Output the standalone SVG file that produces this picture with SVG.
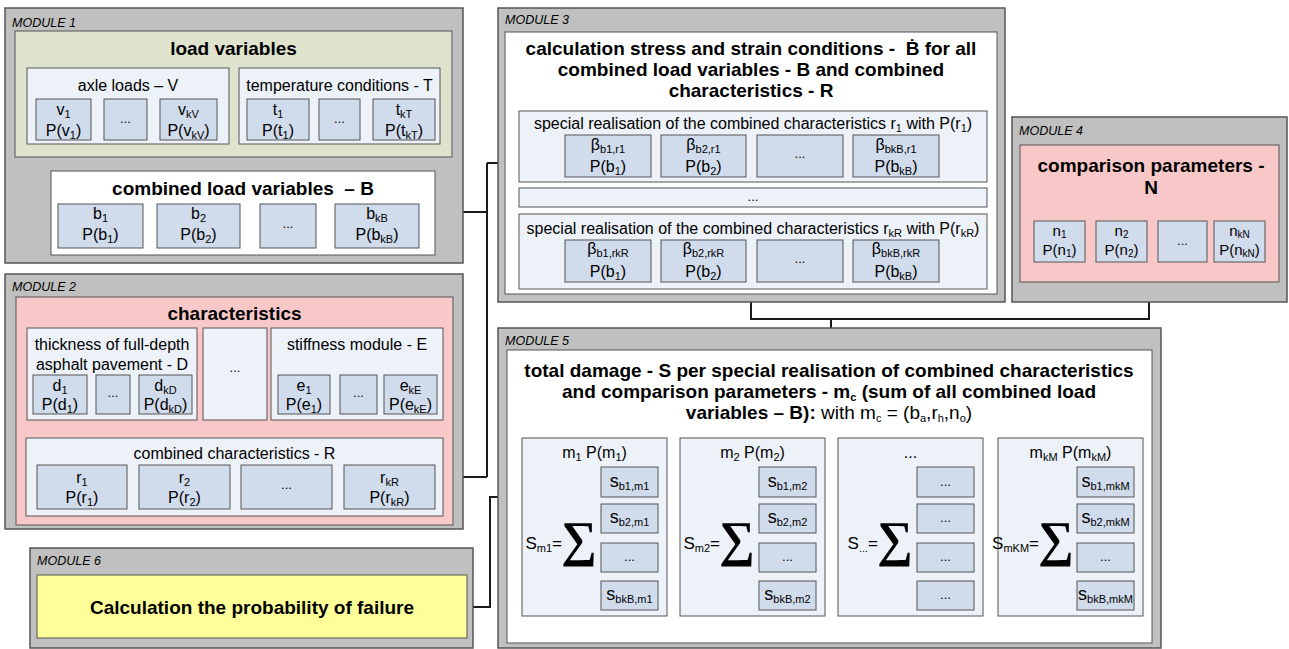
<svg xmlns="http://www.w3.org/2000/svg" width="1289" height="649" viewBox="0 0 1289 649">
<style>
text{font-family:"Liberation Sans",Arial,sans-serif;fill:#000}
.mod{fill:#c0c0c0;stroke:#555;stroke-width:1.5}
.lbl{font-size:12.5px;font-style:italic}
.ttl{font-size:19px;font-weight:bold;text-anchor:middle}
.t{font-size:16px;text-anchor:middle}
.n{font-size:15px;text-anchor:middle}
.s{font-size:18px;text-anchor:middle}
.cont{fill:#edf1f8;stroke:#555;stroke-width:1}
.box{fill:#d0dbec;stroke:#555;stroke-width:1}
.white{fill:#fff;stroke:#555}
.pink{fill:#f8c8c8;stroke:#555}
.green{fill:#dfe3cd;stroke:#555}
.yellow{fill:#ffff99;stroke:#555}
.conn{fill:none;stroke:#1a1a1a;stroke-width:2}
.sb{font-size:11px}
.nsb{font-size:10px}
.d{font-size:13px;text-anchor:middle}
.sig{font-family:"Liberation Serif","DejaVu Serif",serif;font-size:50px;font-weight:bold;text-anchor:middle}
.eq{font-size:17px;text-anchor:end}
</style>

<g id="connectors">
<path class="conn" d="M127,144 V161 H341 V144 M243,161 V171"/>
<path class="conn" d="M112,420 V428 H358 V420 M235,420 V438"/>
<path class="conn" d="M435,212 H487 M443,477 H487 M487,163 V477 M487,163 H505"/>
<path class="conn" d="M751,294 V319 H1149 V282 M831,319 V350"/>
<path class="conn" d="M467,607 H490 V497 H507"/>
</g>

<g id="module1">
<rect class="mod" x="5" y="8" width="458" height="255"/>
<text class="lbl" x="12" y="27">MODULE 1</text>
<g id="load-variables">
<rect class="green" x="15" y="31" width="437" height="126"/>
<text class="ttl" x="233.5" y="55">load variables</text>
<g id="axle-loads">
<rect class="cont" x="27" y="68" width="202" height="76"/>
<text class="t" x="128" y="91">axle loads – V</text>
<rect class="box" x="36" y="99" width="55" height="41"/>
<text class="t" x="63.5" y="115">v<tspan class="sb" dy="3">1</tspan></text>
<text class="t" x="63.5" y="136">P(v<tspan class="sb" dy="3">1</tspan><tspan dy="-3">)</tspan></text>
<rect class="box" x="104" y="99" width="43" height="41"/>
<text class="d" x="125.5" y="123">...</text>
<rect class="box" x="160" y="99" width="57" height="41"/>
<text class="t" x="188.5" y="115">v<tspan class="sb" dy="3">kV</tspan></text>
<text class="t" x="188.5" y="136">P(v<tspan class="sb" dy="3">kV</tspan><tspan dy="-3">)</tspan></text>
</g>
<g id="temperature">
<rect class="cont" x="239" y="68" width="201" height="76"/>
<text class="t" x="339.5" y="91">temperature conditions - T</text>
<rect class="box" x="247" y="99" width="62" height="41"/>
<text class="t" x="278" y="115">t<tspan class="sb" dy="3">1</tspan></text>
<text class="t" x="278" y="136">P(t<tspan class="sb" dy="3">1</tspan><tspan dy="-3">)</tspan></text>
<rect class="box" x="319" y="99" width="41" height="41"/>
<text class="d" x="339.5" y="123">...</text>
<rect class="box" x="373" y="99" width="62" height="41"/>
<text class="t" x="404" y="115">t<tspan class="sb" dy="3">kT</tspan></text>
<text class="t" x="404" y="136">P(t<tspan class="sb" dy="3">kT</tspan><tspan dy="-3">)</tspan></text>
</g>
</g>
<g id="combined-load">
<rect class="white" x="51" y="171" width="384" height="84"/>
<text class="ttl" x="243" y="195">combined load variables&#160; – B</text>
<rect class="box" x="58" y="204" width="85" height="44"/>
<text class="t" x="100.5" y="219">b<tspan class="sb" dy="3">1</tspan></text>
<text class="t" x="100.5" y="240">P(b<tspan class="sb" dy="3">1</tspan><tspan dy="-3">)</tspan></text>
<rect class="box" x="157" y="204" width="83" height="44"/>
<text class="t" x="198.5" y="219">b<tspan class="sb" dy="3">2</tspan></text>
<text class="t" x="198.5" y="240">P(b<tspan class="sb" dy="3">2</tspan><tspan dy="-3">)</tspan></text>
<rect class="box" x="260" y="204" width="56" height="44"/>
<text class="d" x="288" y="228">...</text>
<rect class="box" x="335" y="204" width="84" height="44"/>
<text class="t" x="377" y="219">b<tspan class="sb" dy="3">kB</tspan></text>
<text class="t" x="377" y="240">P(b<tspan class="sb" dy="3">kB</tspan><tspan dy="-3">)</tspan></text>
</g>
</g>

<g id="module2">
<rect class="mod" x="5" y="274" width="458" height="255"/>
<text class="lbl" x="12" y="291">MODULE 2</text>
<rect class="pink" x="16" y="297" width="437" height="228"/>
<text class="ttl" x="234.5" y="320">characteristics</text>
<g id="thickness">
<rect class="cont" x="27" y="328" width="170" height="92"/>
<text class="t" x="112" y="350">thickness of full-depth</text>
<text class="t" x="112" y="370">asphalt pavement - D</text>
<rect class="box" x="33" y="375" width="54" height="39"/>
<text class="t" x="60" y="391">d<tspan class="sb" dy="3">1</tspan></text>
<text class="t" x="60" y="410">P(d<tspan class="sb" dy="3">1</tspan><tspan dy="-3">)</tspan></text>
<rect class="box" x="96" y="375" width="34" height="39"/>
<text class="d" x="113" y="397">...</text>
<rect class="box" x="139" y="375" width="53" height="39"/>
<text class="t" x="165.5" y="391">d<tspan class="sb" dy="3">kD</tspan></text>
<text class="t" x="165.5" y="410">P(d<tspan class="sb" dy="3">kD</tspan><tspan dy="-3">)</tspan></text>
</g>
<g id="char-more">
<rect class="cont" x="203" y="328" width="64" height="92"/>
<text class="d" x="235" y="372">...</text>
</g>
<g id="stiffness">
<rect class="cont" x="271" y="328" width="172" height="92"/>
<text class="t" x="357" y="350">stiffness module - E</text>
<rect class="box" x="278" y="375" width="52" height="39"/>
<text class="t" x="304" y="391">e<tspan class="sb" dy="3">1</tspan></text>
<text class="t" x="304" y="410">P(e<tspan class="sb" dy="3">1</tspan><tspan dy="-3">)</tspan></text>
<rect class="box" x="340" y="375" width="37" height="39"/>
<text class="d" x="358.5" y="397">...</text>
<rect class="box" x="384" y="375" width="53" height="39"/>
<text class="t" x="410.5" y="391">e<tspan class="sb" dy="3">kE</tspan></text>
<text class="t" x="410.5" y="410">P(e<tspan class="sb" dy="3">kE</tspan><tspan dy="-3">)</tspan></text>
</g>
<g id="combined-char">
<rect class="cont" x="26" y="438" width="417" height="78"/>
<text class="t" x="234.5" y="459">combined characteristics - R</text>
<rect class="box" x="37" y="465" width="90" height="44"/>
<text class="t" x="82" y="483">r<tspan class="sb" dy="3">1</tspan></text>
<text class="t" x="82" y="503">P(r<tspan class="sb" dy="3">1</tspan><tspan dy="-3">)</tspan></text>
<rect class="box" x="139" y="465" width="91" height="44"/>
<text class="t" x="184.5" y="483">r<tspan class="sb" dy="3">2</tspan></text>
<text class="t" x="184.5" y="503">P(r<tspan class="sb" dy="3">2</tspan><tspan dy="-3">)</tspan></text>
<rect class="box" x="241" y="465" width="91" height="44"/>
<text class="d" x="286.5" y="489">...</text>
<rect class="box" x="344" y="465" width="91" height="44"/>
<text class="t" x="389.5" y="483">r<tspan class="sb" dy="3">kR</tspan></text>
<text class="t" x="389.5" y="503">P(r<tspan class="sb" dy="3">kR</tspan><tspan dy="-3">)</tspan></text>
</g>
</g>

<g id="module3">
<rect class="mod" x="498" y="8" width="507" height="294"/>
<text class="lbl" x="505" y="24">MODULE 3</text>
<rect class="white" x="505" y="32" width="492" height="262"/>
<text class="ttl" x="751" y="55">calculation stress and strain conditions -&#160; Ḃ for all</text>
<text class="ttl" x="751" y="76">combined load variables - B and combined</text>
<text class="ttl" x="751" y="97">characteristics - R</text>
<g id="realisation-r1">
<rect class="cont" x="519" y="111" width="468" height="71"/>
<text class="t" x="753" y="129">special realisation of the combined characteristics r<tspan class="sb" dy="3">1</tspan><tspan dy="-3"> with P(r</tspan><tspan class="sb" dy="3">1</tspan><tspan dy="-3">)</tspan></text>
<rect class="box" x="565" y="135" width="86" height="42"/>
<text class="t" x="608" y="150">β<tspan class="sb" dy="3">b1,r1</tspan></text>
<text class="t" x="608" y="172">P(b<tspan class="sb" dy="3">1</tspan><tspan dy="-3">)</tspan></text>
<rect class="box" x="661" y="135" width="85" height="42"/>
<text class="t" x="703.5" y="150">β<tspan class="sb" dy="3">b2,r1</tspan></text>
<text class="t" x="703.5" y="172">P(b<tspan class="sb" dy="3">2</tspan><tspan dy="-3">)</tspan></text>
<rect class="box" x="757" y="135" width="86" height="42"/>
<text class="d" x="800" y="158">...</text>
<rect class="box" x="853" y="135" width="86" height="42"/>
<text class="t" x="896" y="150">β<tspan class="sb" dy="3">bkB,r1</tspan></text>
<text class="t" x="896" y="172">P(b<tspan class="sb" dy="3">kB</tspan><tspan dy="-3">)</tspan></text>
</g>
<g id="realisation-more">
<rect class="cont" x="519" y="188" width="468" height="19"/>
<text class="d" x="753" y="201">...</text>
</g>
<g id="realisation-rkR">
<rect class="cont" x="519" y="214" width="468" height="75"/>
<text class="t" x="753" y="234">special realisation of the combined characteristics r<tspan class="sb" dy="3">kR</tspan><tspan dy="-3"> with P(r</tspan><tspan class="sb" dy="3">kR</tspan><tspan dy="-3">)</tspan></text>
<rect class="box" x="565" y="240" width="86" height="42"/>
<text class="t" x="608" y="254">β<tspan class="sb" dy="3">b1,rkR</tspan></text>
<text class="t" x="608" y="277">P(b<tspan class="sb" dy="3">1</tspan><tspan dy="-3">)</tspan></text>
<rect class="box" x="661" y="240" width="85" height="42"/>
<text class="t" x="703.5" y="254">β<tspan class="sb" dy="3">b2,rkR</tspan></text>
<text class="t" x="703.5" y="277">P(b<tspan class="sb" dy="3">2</tspan><tspan dy="-3">)</tspan></text>
<rect class="box" x="757" y="240" width="86" height="42"/>
<text class="d" x="800" y="263">...</text>
<rect class="box" x="853" y="240" width="86" height="42"/>
<text class="t" x="896" y="254">β<tspan class="sb" dy="3">bkB,rkR</tspan></text>
<text class="t" x="896" y="277">P(b<tspan class="sb" dy="3">kB</tspan><tspan dy="-3">)</tspan></text>
</g>
</g>

<g id="module4">
<rect class="mod" x="1012" y="117" width="275" height="185"/>
<text class="lbl" x="1019" y="135">MODULE 4</text>
<rect class="pink" x="1020" y="145" width="259" height="137"/>
<text class="ttl" x="1151" y="172">comparison parameters -</text>
<text class="ttl" x="1151" y="194">N</text>
<rect class="box" x="1034" y="221" width="51" height="41"/>
<text class="n" x="1059.5" y="236">n<tspan class="nsb" dy="2">1</tspan></text>
<text class="n" x="1059.5" y="255">P(n<tspan class="nsb" dy="2">1</tspan><tspan dy="-2">)</tspan></text>
<rect class="box" x="1096" y="221" width="51" height="41"/>
<text class="n" x="1121.5" y="236">n<tspan class="nsb" dy="2">2</tspan></text>
<text class="n" x="1121.5" y="255">P(n<tspan class="nsb" dy="2">2</tspan><tspan dy="-2">)</tspan></text>
<rect class="box" x="1158" y="221" width="49" height="41"/>
<text class="d" x="1182.5" y="245">...</text>
<rect class="box" x="1214" y="221" width="51" height="41"/>
<text class="n" x="1239.5" y="236">n<tspan class="nsb" dy="2">kN</tspan></text>
<text class="n" x="1239.5" y="255">P(n<tspan class="nsb" dy="2">kN</tspan><tspan dy="-2">)</tspan></text>
</g>

<g id="module5">
<rect class="mod" x="498" y="328" width="663" height="320"/>
<text class="lbl" x="505" y="345">MODULE 5</text>
<rect class="white" x="507" y="350" width="645" height="293"/>
<text class="ttl" x="829" y="377">total damage - S per special realisation of combined characteristics</text>
<text class="ttl" x="829" y="398">and comparison parameters - m<tspan class="sb" dy="3">c</tspan><tspan dy="-3"> (sum of all combined load</tspan></text>
<text class="ttl" x="829" y="419">variables – B):<tspan font-weight="normal"> with m</tspan><tspan class="sb" font-weight="normal" dy="3">c</tspan><tspan font-weight="normal" dy="-3"> = (b</tspan><tspan class="sb" font-weight="normal" dy="3">a</tspan><tspan font-weight="normal" dy="-3">,r</tspan><tspan class="sb" font-weight="normal" dy="3">h</tspan><tspan font-weight="normal" dy="-3">,n</tspan><tspan class="sb" font-weight="normal" dy="3">o</tspan><tspan font-weight="normal" dy="-3">)</tspan></text>

<g id="m1">
<rect class="cont" x="522" y="438" width="145" height="178"/>
<text class="t" x="594.5" y="458">m<tspan class="sb" dy="3">1</tspan><tspan dy="-3"> P(m</tspan><tspan class="sb" dy="3">1</tspan><tspan dy="-3">)</tspan></text>
<rect class="box" x="601" y="467" width="57" height="30"/>
<text class="s" x="629.5" y="487">s<tspan class="sb" dy="3">b1,m1</tspan></text>
<rect class="box" x="601" y="504" width="57" height="29"/>
<text class="s" x="629.5" y="523">s<tspan class="sb" dy="3">b2,m1</tspan></text>
<rect class="box" x="601" y="543" width="57" height="29"/>
<text class="d" x="629.5" y="561">...</text>
<rect class="box" x="601" y="581" width="57" height="29"/>
<text class="s" x="629.5" y="600">s<tspan class="sb" dy="3">bkB,m1</tspan></text>
<text class="eq" x="562" y="549">S<tspan class="sb" dy="3">m1</tspan><tspan dy="-3">=</tspan></text>
<text class="sig" x="579" y="556">∑</text>
</g>
<g id="m2">
<rect class="cont" x="680" y="438" width="145" height="178"/>
<text class="t" x="752.5" y="458">m<tspan class="sb" dy="3">2</tspan><tspan dy="-3"> P(m</tspan><tspan class="sb" dy="3">2</tspan><tspan dy="-3">)</tspan></text>
<rect class="box" x="759" y="467" width="57" height="30"/>
<text class="s" x="787.5" y="487">s<tspan class="sb" dy="3">b1,m2</tspan></text>
<rect class="box" x="759" y="504" width="57" height="29"/>
<text class="s" x="787.5" y="523">s<tspan class="sb" dy="3">b2,m2</tspan></text>
<rect class="box" x="759" y="543" width="57" height="29"/>
<text class="d" x="787.5" y="561">...</text>
<rect class="box" x="759" y="581" width="57" height="29"/>
<text class="s" x="787.5" y="600">s<tspan class="sb" dy="3">bkB,m2</tspan></text>
<text class="eq" x="720" y="549">S<tspan class="sb" dy="3">m2</tspan><tspan dy="-3">=</tspan></text>
<text class="sig" x="737" y="556">∑</text>
</g>
<g id="m-more">
<rect class="cont" x="838" y="438" width="145" height="178"/>
<text class="t" x="910.5" y="458">...</text>
<rect class="box" x="917" y="467" width="57" height="30"/>
<text class="d" x="945.5" y="486">...</text>
<rect class="box" x="917" y="504" width="57" height="29"/>
<text class="d" x="945.5" y="522">...</text>
<rect class="box" x="917" y="543" width="57" height="29"/>
<text class="d" x="945.5" y="561">...</text>
<rect class="box" x="917" y="581" width="57" height="29"/>
<text class="d" x="945.5" y="599">...</text>
<text class="eq" x="878" y="549">S<tspan class="sb" dy="3">...</tspan><tspan dy="-3">=</tspan></text>
<text class="sig" x="895" y="556">∑</text>
</g>
<g id="mkM">
<rect class="cont" x="998" y="438" width="145" height="178"/>
<text class="t" x="1070.5" y="458">m<tspan class="sb" dy="3">kM</tspan><tspan dy="-3"> P(m</tspan><tspan class="sb" dy="3">kM</tspan><tspan dy="-3">)</tspan></text>
<rect class="box" x="1077" y="467" width="57" height="30"/>
<text class="s" x="1105.5" y="487">s<tspan class="sb" dy="3">b1,mkM</tspan></text>
<rect class="box" x="1077" y="504" width="57" height="29"/>
<text class="s" x="1105.5" y="523">s<tspan class="sb" dy="3">b2,mkM</tspan></text>
<rect class="box" x="1077" y="543" width="57" height="29"/>
<text class="d" x="1105.5" y="561">...</text>
<rect class="box" x="1077" y="581" width="57" height="29"/>
<text class="s" x="1105.5" y="600">s<tspan class="sb" dy="3">bkB,mkM</tspan></text>
<text class="eq" x="1039" y="549">S<tspan class="sb" dy="3">mKM</tspan><tspan dy="-3">=</tspan></text>
<text class="sig" x="1056" y="556">∑</text>
</g>
</g>

<g id="module6">
<rect class="mod" x="30" y="548" width="443" height="100"/>
<text class="lbl" x="37" y="565">MODULE 6</text>
<rect class="yellow" x="37" y="575" width="430" height="63"/>
<text class="ttl" x="252" y="614">Calculation the probability of failure</text>
</g>
</svg>
